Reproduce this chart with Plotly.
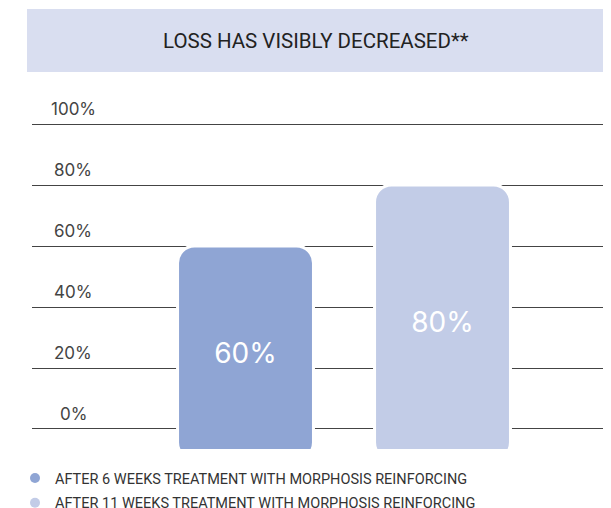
import plotly.graph_objects as go

title_text = "LOSS HAS VISIBLY DECREASED**"
categories = ["6 weeks", "11 weeks"]
series_names = [
    "AFTER 6 WEEKS TREATMENT WITH MORPHOSIS REINFORCING",
    "AFTER 11 WEEKS TREATMENT WITH MORPHOSIS REINFORCING",
]
values = [60, 80]
value_labels = ["60%", "80%"]
tick_values = [0, 20, 40, 60, 80, 100]
tick_labels = ["0%", "20%", "40%", "60%", "80%", "100%"]
colors = ["#8fa5d4", "#c2cce7"]

W, H = 611, 508
ML, MR, MT, MB = 24, 0, 72, 67
YMIN = -6.56
YMAX = 114.43
BASE = -10
pw = W - ML - MR
ph = H - MT - MB

fig = go.Figure()
for cat, name, v, lab, col in zip(categories, series_names, values, value_labels, colors):
    fig.add_trace(go.Bar(
        x=[cat], y=[v - BASE], base=BASE, width=0.69,
        marker=dict(color=col, line=dict(color="white", width=3), cornerradius=17),
        text=[lab], textposition="inside", insidetextanchor="middle", textangle=0,
        textfont=dict(family="Inter", size=28, color="white"),
        showlegend=False, hoverinfo="skip", cliponaxis=True,
    ))
for i, (name, col) in enumerate(zip(series_names, colors)):
    fig.add_trace(go.Scatter(
        x=[None], y=[None], mode="markers", name=name, legendgroup=f"g{i}",
        marker=dict(symbol="circle", size=10, color=col),
    ))

annotations = []
for tv, tl in zip(tick_values, tick_labels):
    annotations.append(dict(
        x=(65 - ML) / pw, xref="paper", y=tv, yref="y",
        text=tl, showarrow=False, xanchor="center", yanchor="middle", yshift=15,
        font=dict(family="Inter", size=17, color="#444"),
    ))
annotations.append(dict(
    x=(308 - ML) / pw, xref="paper", y=(H - MB - 33) / ph, yref="paper",
    text=title_text, showarrow=False, xanchor="center", yanchor="middle",
    font=dict(family="Roboto", size=20.5, color="#222"),
))

fig.update_layout(
    width=W, height=H,
    margin=dict(l=ML, r=MR, t=MT, b=MB, pad=0, autoexpand=False),
    paper_bgcolor="white", plot_bgcolor="white",
    barmode="overlay",
    xaxis=dict(type="category", categoryorder="array", categoryarray=categories,
               range=[-1.0838, -1.0838 + pw / 197], showticklabels=False, showgrid=False,
               zeroline=False, showline=False, ticks=""),
    yaxis=dict(range=[YMIN, YMAX], tickvals=tick_values, showticklabels=False,
               showgrid=True, gridcolor="#444", gridwidth=1, zeroline=False,
               showline=False, ticks=""),
    shapes=[dict(type="rect", xref="paper", yref="paper",
                 x0=(19 - ML) / pw, x1=1.0,
                 y0=(H - MB - 64) / ph, y1=(H - MB - 1) / ph,
                 fillcolor="#d9def0", line=dict(width=0), layer="below")],
    annotations=annotations,
    legend=dict(xref="container", yref="container", x=7 / W, y=1 - 454 / H,
                xanchor="left", yanchor="top", tracegroupgap=3,
                font=dict(family="Roboto", size=14.5, color="#333"),
                bgcolor="rgba(0,0,0,0)"),
    hovermode=False,
)
fig.write_html("out.html")
